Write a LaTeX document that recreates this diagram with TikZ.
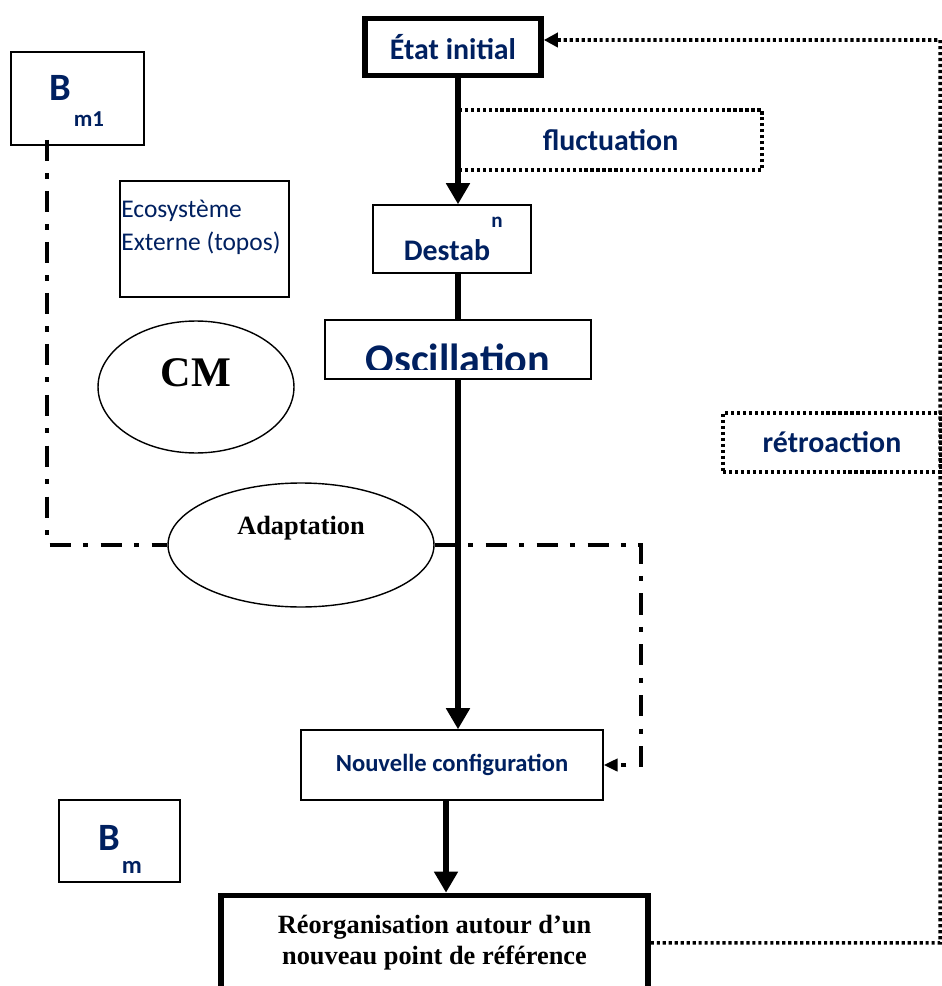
\documentclass[tikz,border=0pt]{standalone}
\usepackage{fontspec}
\setmainfont{Liberation Serif}
\newfontfamily\calibri{Carlito}
\usetikzlibrary{shapes.geometric,arrows.meta}
\definecolor{navy}{RGB}{0,32,96}
\tikzset{box/.style={draw,line width=0.8pt,inner sep=0pt},
    bigbox/.style={box,line width=3.2pt},
    dotbox/.style={box,line width=2pt,dash pattern=on 1.8pt off 1.6pt},
    oval/.style={draw,ellipse,line width=0.8pt,inner sep=0pt},
    navytext/.style={text=navy,font=\calibri\bfseries\fontsize{17}{20}\selectfont},
    flow/.style={line width=3.8pt,-{Triangle[length=12pt,width=13pt]}},
    dotline/.style={line width=2pt,dash pattern=on 1.8pt off 1.6pt},
    dashdotline/.style={line width=2.2pt,dash pattern=on 12pt off 7pt on 3pt off 7pt},
    }
\begin{document}
\begin{tikzpicture}[x=0.02cm,y=-0.02cm]
	\useasboundingbox (0,0) rectangle (941,986);
	% main chain
	\node[bigbox,minimum width=3.52cm,minimum height=1.14cm,navytext] (e) at (453,47) {État initial};
	\node[dotbox,minimum width=6.06cm,minimum height=1.2cm,navytext] (f) at (610.5,140) {fluctuation};
	\node[box,minimum width=3.16cm,minimum height=1.36cm] (d) at (452,239) {};
	\node[navytext] (dt) at (447,250) {Destab};
	\node[navytext,font=\calibri\bfseries\fontsize{12}{14}\selectfont] (dn) at (497,222) {n};
	\node[box,minimum width=5.32cm,minimum height=1.18cm] (o) at (458,349.5) {};
	\begin{scope}
		\clip (325,320) rectangle (591,369);
		\node[navytext,font=\calibri\bfseries\fontsize{24}{28}\selectfont,anchor=base] (ot) at (458,373) {Oscillation};
	\end{scope}
	\node[box,minimum width=6.04cm,minimum height=1.4cm,navytext,font=\calibri\bfseries\fontsize{14}{17}\selectfont] (n) at (452,765) {Nouvelle configuration};
	\node[bigbox,minimum width=8.54cm,minimum height=1.89cm,align=center,font=\bfseries\fontsize{15}{17.6}\selectfont] (r) at (434.5,942.75) {Réorganisation autour d’un\\nouveau point de référence};
	\node[dotbox,minimum width=4.36cm,minimum height=1.18cm,navytext] (rt) at (832,442.5) {rétroaction};
	% left side
	\node[box,minimum width=2.66cm,minimum height=1.86cm] (b1) at (77.5,98.5) {};
	\node[navytext,font=\calibri\bfseries\fontsize{22}{26}\selectfont] (b1t) at (60,88) {B};
	\node[navytext,font=\calibri\bfseries\fontsize{13}{15}\selectfont] (b1s) at (89,119) {m1};
	\node[box,minimum width=3.38cm,minimum height=2.32cm] (eco) at (204.5,239) {};
	\node[anchor=west,align=left,inner sep=0pt,text=navy,font=\calibri\fontsize{14.5}{18.7}\selectfont] (ecot) at (121,227) {Ecosystème\\Externe (topos)};
	\node[oval,minimum width=3.92cm,minimum height=2.64cm] (cm) at (196,387) {};
	\node[font=\bfseries\fontsize{24}{28}\selectfont] (cmt) at (196,373) {CM};
	\node[oval,minimum width=5.32cm,minimum height=2.48cm] (ad) at (301,545) {};
	\node[font=\bfseries\fontsize{15}{18}\selectfont] (adt) at (301,528) {Adaptation};
	\node[box,minimum width=2.42cm,minimum height=1.64cm] (b2) at (119.5,841) {};
	\node[navytext,font=\calibri\bfseries\fontsize{22}{26}\selectfont] (b2t) at (109,838) {B};
	\node[navytext,font=\calibri\bfseries\fontsize{14}{16}\selectfont] (b2s) at (132,867) {m};
	% connectors
	\coordinate (dl) at (47,140);
	\coordinate (dr) at (641,545);
	\coordinate (fb) at (940,40);
	\draw[flow] (e.south -| o.north) -- (d.north -| o.north);
	\draw[line width=3.8pt] (d.south -| o.north) -- (o.north);
	\draw[flow] (o.south) -- (n.north -| o.south);
	\draw[flow] ([xshift=-0.12cm]n.south) -- ([xshift=-0.12cm]n.south |- r.north);
	\draw[dashdotline] (dl) |- (ad.west);
	\draw[dashdotline,-{Triangle[length=8pt,width=7pt]}] (ad.east) -- (dr) |- (n.east);
	\draw[dotline,-{Triangle[length=8pt,width=8pt]}] (r.east) -| (fb) -- ([yshift=0.14cm]e.east);%retroaction
\end{tikzpicture}
\end{document}
